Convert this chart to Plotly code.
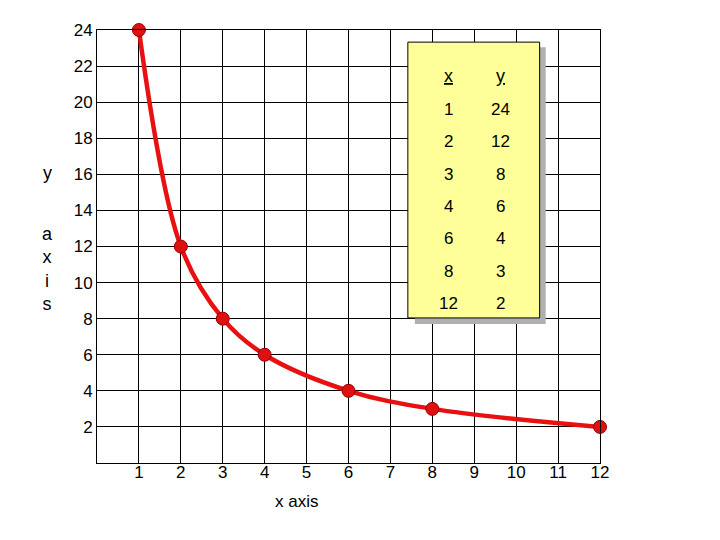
import plotly.graph_objects as go

x_vals = [1, 2, 3, 4, 6, 8, 12]
y_vals = [24, 12, 8, 6, 4, 3, 2]
x_ticks = [1, 2, 3, 4, 5, 6, 7, 8, 9, 10, 11, 12]
y_ticks = [2, 4, 6, 8, 10, 12, 14, 16, 18, 20, 22, 24]
x_title = "x axis"
y_title_top = "y"
y_title_rest = ["a", "x", "i", "s"]

FONT = "Liberation Sans, Arial, sans-serif"

fig = go.Figure()
fig.add_trace(go.Scatter(
    x=x_vals, y=y_vals, mode="lines+markers",
    line=dict(color="#e81010", width=4.5, shape="spline", smoothing=1.0),
    marker=dict(color="#dd1111", size=13, line=dict(color="#990000", width=1)),
    showlegend=False, cliponaxis=False,
))

# table box with shadow (paper coords)
fig.add_shape(type="rect", xref="paper", yref="paper",
              x0=0.632, x1=0.892, y0=0.321, y1=0.960,
              fillcolor="#b0b0b0", line=dict(width=0), layer="above")
fig.add_shape(type="rect", xref="paper", yref="paper",
              x0=0.618, x1=0.880, y0=0.335, y1=0.972,
              fillcolor="#ffff99", line=dict(color="black", width=1), layer="above")

row_px = [110, 141, 174, 206, 238, 271, 303]
def py(p):
    return (463 - p) / 433
def px(p):
    return (p - 97) / 503

def ann(xp, yp, text, size):
    fig.add_annotation(x=px(xp), y=py(yp), xref="paper", yref="paper", text=text,
                       xanchor="center", yanchor="middle", showarrow=False,
                       font=dict(family=FONT, size=size, color="black"))

ann(448, 76, "<u>x</u>", 18)
ann(500, 76, "<u>y</u>", 18)
for xv, yv, r in zip(x_vals, y_vals, row_px):
    ann(448, r, str(xv), 17)
    ann(500, r, str(yv), 17)

ann(296, 501, x_title, 17)
ann(47, 173, y_title_top, 18)
fig.add_annotation(x=px(47), y=py(269), xref="paper", yref="paper",
                   text="<br>".join(y_title_rest), xanchor="center", yanchor="middle",
                   showarrow=False, font=dict(family=FONT, size=18, color="black"))

fig.update_xaxes(range=[0, 12], tickvals=x_ticks, showgrid=True, gridcolor="black",
                 gridwidth=1, showline=True, linecolor="black", linewidth=1, mirror=True,
                 zeroline=False, ticks="", ticklabelstandoff=-6,
                 tickfont=dict(family=FONT, size=17, color="black"))
fig.update_yaxes(range=[0, 24], tickvals=y_ticks, showgrid=True, gridcolor="black",
                 gridwidth=1, showline=True, linecolor="black", linewidth=1, mirror=True,
                 zeroline=False, ticks="",
                 tickfont=dict(family=FONT, size=17, color="black"))

fig.update_layout(width=720, height=540, margin=dict(l=89, r=128, t=22, b=85),
                  paper_bgcolor="white", plot_bgcolor="white")
fig.write_html("out.html")
